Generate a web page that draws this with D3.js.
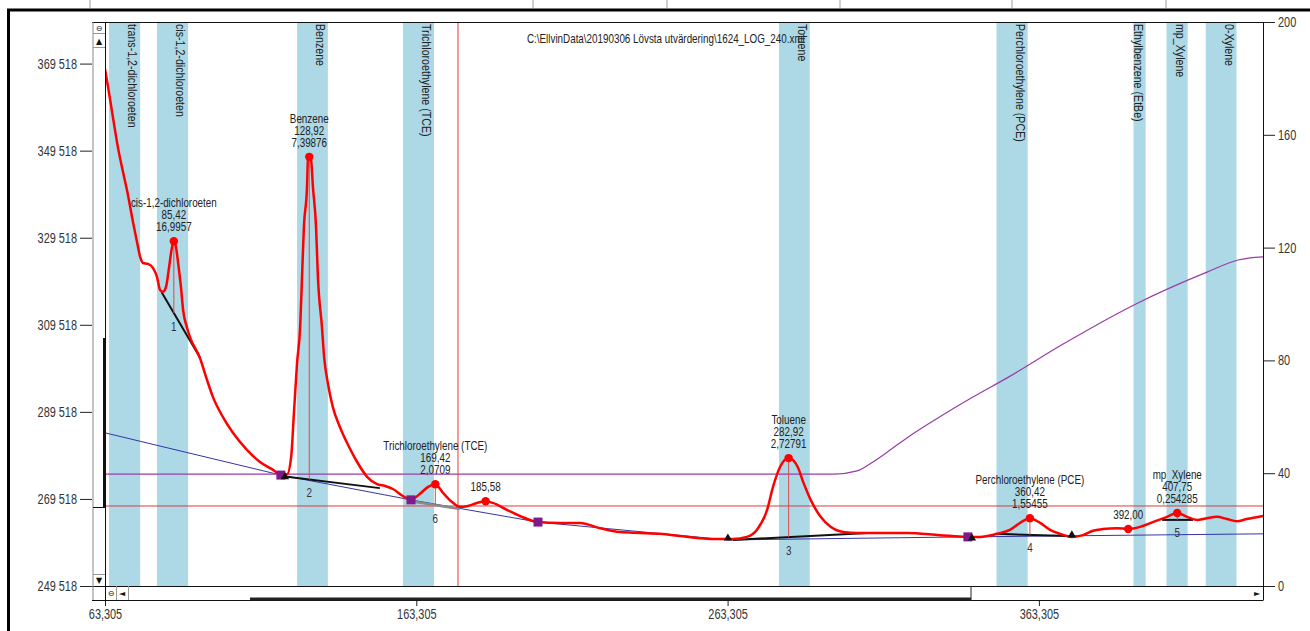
<!DOCTYPE html>
<html>
<head>
<meta charset="utf-8">
<script src="https://cdn.jsdelivr.net/npm/d3@7"></script>
<style>
  html, body { margin: 0; padding: 0; background: #fff; }
  svg { display: block; }
  text { font-family: "Liberation Sans", Arial, sans-serif; fill: #222; }
  .glyph { font-family: "DejaVu Sans", sans-serif; font-size: 8px; fill: #111; }
</style>
</head>
<body>
<div id="chart"></div>
<script>
const title = "C:\\EllvinData\\20190306 Lövsta utvärdering\\1624_LOG_240.xml";

// retention windows: name, from, to (min)
const compoundNames = ["trans-1,2-dichloroeten", "cis-1,2-dichloroeten", "Benzene", "Trichloroethylene (TCE)", "Toluene", "Perchloroethylene (PCE)", "Ethylbenzene (EtBe)", "mp_Xylene", "0-Xylene"];
const windowStart = [64.6, 80.0, 125.0, 159.0, 279.8, 349.7, 393.7, 404.3, 416.9];
const windowEnd   = [74.6, 90.0, 134.9, 169.0, 289.7, 359.7, 397.6, 411.1, 426.8];

// detector signal
const signalTime = [63.3, 64.3, 65.9, 67.5, 69.1, 70.7, 72.3, 73.6, 74.6, 75.5, 77.1, 78.7, 80.0, 81.0, 81.9, 82.9, 83.9, 84.8, 85.42, 86.1, 86.8, 87.7, 88.4, 89.6, 90.6, 93.8, 96.1, 98.0, 101.2, 104.4, 108.9, 113.1, 117.3, 119.5, 121.8, 123.1, 124.0, 125.0, 126.0, 126.6, 127.2, 128.2, 128.5, 128.92, 129.5, 130.1, 131.1, 131.7, 133.0, 133.7, 134.9, 136.5, 138.8, 141.4, 144.3, 147.5, 150.7, 153.3, 155.8, 159.0, 161.6, 164.5, 167.1, 169.42, 171.9, 174.8, 177.3, 179.9, 182.8, 185.58, 187.9, 192.4, 196.6, 202.4, 209.5, 215.9, 222.3, 228.7, 235.2, 241.6, 248.0, 254.4, 260.9, 265.0, 269.5, 272.7, 276.0, 277.9, 280.2, 282.92, 285.8, 287.7, 290.0, 293.2, 296.4, 300.5, 304.9, 310.0, 320.9, 331.5, 340.2, 344.4, 349.8, 354.0, 357.2, 360.42, 363.7, 366.9, 370.1, 373.9, 377.5, 380.7, 383.9, 388.4, 392.0, 395.8, 399.9, 404.5, 407.75, 410.9, 414.1, 417.3, 420.5, 423.7, 426.9, 430.1, 435.3];
const signalValue = [368300, 364100, 357000, 350100, 344600, 339300, 333100, 328500, 325100, 323700, 323500, 322600, 320500, 317500, 317100, 318200, 322800, 327200, 328700, 327400, 323700, 318200, 312900, 309000, 306700, 301900, 296800, 292900, 288300, 284700, 280800, 278000, 276200, 275200, 275200, 279100, 289300, 300700, 309000, 320500, 332000, 341200, 347400, 348100, 347400, 341200, 332000, 320500, 309000, 302100, 296100, 290600, 286000, 281900, 278000, 274600, 272900, 272500, 271800, 270200, 269300, 270700, 272300, 272900, 270900, 268800, 267700, 267900, 268600, 269000, 268600, 267000, 265600, 264200, 264000, 264000, 262800, 261900, 261700, 261500, 261000, 260500, 260300, 260300, 260800, 262400, 267000, 272300, 276900, 278900, 276900, 273200, 269300, 265400, 263100, 261900, 261700, 261700, 261700, 261200, 260800, 260800, 261500, 262400, 264000, 265100, 264000, 262400, 261500, 260800, 261200, 262200, 262600, 262800, 262600, 263100, 264200, 265400, 266300, 265400, 264700, 265100, 265400, 264900, 264400, 264900, 265600];

// column temperature (right axis)
const tempTime  = [63.3, 297.8, 304.9, 310.0, 315.5, 320.9, 331.5, 342.1, 353.1, 371.1, 394.8, 417.3, 427.3, 435.3];
const tempValue = [39.7, 39.7, 40.8, 44.0, 48.2, 52.5, 60.0, 67.0, 73.8, 85.8, 100.2, 111.3, 115.6, 116.7];

// fitted baseline
const baseTime  = [63.3, 119.8, 161.6, 202.4, 263.4, 340.2, 435.3];
const baseValue = [284700, 275000, 269300, 264200, 260100, 260800, 261500];

// integration lines per peak: [t0, v0, t1, v1]
const integration = [
  [81.5, 317000, 93.8, 302000],
  [119.8, 274800, 151.6, 272000],
  [161.6, 269000, 177.3, 267200],
  [265.0, 260100, 308.4, 261700],
  [349.8, 261500, 372.7, 261000],
  [402.9, 264700, 412.8, 264700]
];

// detected peaks
const peakName   = ["cis-1,2-dichloroeten", "Benzene", "Trichloroethylene (TCE)", "", "Toluene", "Perchloroethylene (PCE)", "", "mp_Xylene"];
const peakTime   = [85.42, 128.92, 169.42, 185.58, 282.92, 360.42, 392.00, 407.75];
const peakHeight = [328700, 348100, 272900, 269000, 278900, 265100, 262600, 266300];
const peakArea   = [16.9957, 7.39876, 2.0709, null, 2.72791, 1.55455, null, 0.254285];
const peakNo     = [1, 2, 6, null, 3, 4, null, 5];
const peakLine   = [0, 1, 2, null, 3, 4, null, 5];

const valleyTime = [119.8, 161.6, 202.4, 340.5];
const valleyValue = [275000, 269300, 264200, 260800];
const startTime = [121.1, 263.4, 341.8, 373.9];
const startValue = [274600, 260500, 260500, 261200];

const cursorTime = 176.7;
const cursorValue = 267900;

const timeTicks = [63.305, 163.305, 263.305, 363.305];
const signalTicks = [249518, 269518, 289518, 309518, 329518, 349518, 369518];
const tempTicks = [0, 40, 80, 120, 160, 200];

// no narrow font installed, so squeeze text horizontally
function squeeze(sel, k) {
  k = k || 0.82;
  sel.each(function() {
    const t = d3.select(this);
    if (t.attr("x") !== null) t.attr("x", +t.attr("x") / k);
    t.selectAll("tspan").each(function() {
      const s = d3.select(this);
      if (s.attr("x") !== null) s.attr("x", +s.attr("x") / k);
    });
    t.attr("transform", (t.attr("transform") || "") + ` scale(${k},1)`);
  });
}

function render() {
  const W = 1310, H = 631;
  const p = { left: 105, right: 1263, top: 22, bottom: 586 };

  const svg = d3.select("#chart").append("svg").attr("width", W).attr("height", H);

  const x = d3.scaleLinear().domain([63.305, 435.3]).range([p.left, p.right]);
  const y = d3.scaleLinear().domain([249518, 379070]).range([p.bottom, p.top]);
  const yT = d3.scaleLinear().domain([0, 200]).range([p.bottom, p.top]);

  const comma = s => String(s).replace(".", ",");
  const thousands = d => String(d).replace(/\B(?=(\d{3})+(?!\d))/g, " ");

  svg.append("rect").attr("width", W).attr("height", H).attr("fill", "#fff");

  // window chrome above the plot
  [90, 533, 667, 840, 1012, 1166].forEach(cx => {
    svg.append("line").attr("x1", cx).attr("x2", cx).attr("y1", 0).attr("y2", 8)
      .attr("stroke", "#cfcfcf").attr("stroke-width", 2);
  });
  svg.append("line").attr("x1", 7).attr("x2", W).attr("y1", 10).attr("y2", 10).attr("stroke", "#000").attr("stroke-width", 3);
  svg.append("line").attr("x1", 8.5).attr("x2", 8.5).attr("y1", 9).attr("y2", H).attr("stroke", "#000").attr("stroke-width", 3);

  svg.append("defs").append("clipPath").attr("id", "clip").append("rect")
    .attr("x", p.left).attr("y", p.top).attr("width", p.right - p.left).attr("height", p.bottom - p.top);

  const g = svg.append("g").attr("clip-path", "url(#clip)");

  const bands = compoundNames.map((n, i) => ({ name: n, t0: windowStart[i], t1: windowEnd[i] }));
  g.selectAll("rect.band").data(bands).join("rect").attr("class", "band")
    .attr("x", d => x(d.t0)).attr("width", d => x(d.t1) - x(d.t0))
    .attr("y", p.top).attr("height", p.bottom - p.top)
    .attr("fill", "#add8e6");

  g.selectAll("text.band").data(bands).join("text").attr("class", "band")
    .attr("transform", d => `translate(${x(d.t1) - 12},${p.top + 2}) rotate(90)`)
    .style("font-size", "13px")
    .text(d => d.name);

  g.append("text").attr("class", "title").attr("x", 527).attr("y", 43).style("font-size", "12px").text(title);

  const base = baseTime.map((t, i) => [t, baseValue[i]]);
  g.append("path").datum(base)
    .attr("d", d3.line().x(d => x(d[0])).y(d => y(d[1])))
    .attr("fill", "none").attr("stroke", "#3535a5").attr("stroke-width", 1);

  const temp = tempTime.map((t, i) => [t, tempValue[i]]);
  g.append("path").datum(temp)
    .attr("d", d3.line().x(d => x(d[0])).y(d => yT(d[1])).curve(d3.curveMonotoneX))
    .attr("fill", "none").attr("stroke", "#9a3ca8").attr("stroke-width", 1.2);

  // cursors
  g.append("line").attr("x1", x(cursorTime)).attr("x2", x(cursorTime)).attr("y1", p.top).attr("y2", p.bottom)
    .attr("stroke", "#e23a3a").attr("stroke-width", 1);
  g.append("line").attr("x1", p.left).attr("x2", p.right).attr("y1", y(cursorValue)).attr("y2", y(cursorValue))
    .attr("stroke", "#e23a3a").attr("stroke-width", 1);

  g.selectAll("line.integ").data(integration).join("line").attr("class", "integ")
    .attr("x1", d => x(d[0])).attr("y1", d => y(d[1]))
    .attr("x2", d => x(d[2])).attr("y2", d => y(d[3]))
    .attr("stroke", (d, i) => i === 2 ? "#8a8a8a" : "#111")
    .attr("stroke-width", (d, i) => i === 2 ? 2.5 : 2);

  const signal = signalTime.map((t, i) => [t, signalValue[i]]);
  g.append("path").datum(signal)
    .attr("d", d3.line().x(d => x(d[0])).y(d => y(d[1])).curve(d3.curveMonotoneX))
    .attr("fill", "none").attr("stroke", "#ff0000").attr("stroke-width", 2.5);

  const peaks = peakTime.map((t, i) => {
    let b = null;
    if (peakLine[i] !== null) {
      const s = integration[peakLine[i]];
      b = d3.interpolateNumber(s[1], s[3])((t - s[0]) / (s[2] - s[0]));
    }
    return { t, v: peakHeight[i], name: peakName[i], area: peakArea[i], no: peakNo[i], base: b };
  });

  g.selectAll("line.drop").data(peaks.filter(d => d.base !== null)).join("line").attr("class", "drop")
    .attr("x1", d => x(d.t)).attr("x2", d => x(d.t))
    .attr("y1", d => y(d.v)).attr("y2", d => y(d.base))
    .attr("stroke", "#e04848").attr("stroke-width", 1);

  g.selectAll("rect.valley").data(valleyTime).join("rect").attr("class", "valley")
    .attr("x", (d, i) => x(d) - 4.5).attr("y", (d, i) => y(valleyValue[i]) - 4.5)
    .attr("width", 9).attr("height", 9).attr("fill", "#7e1a8a");

  g.selectAll("path.start").data(startTime).join("path").attr("class", "start")
    .attr("transform", (d, i) => `translate(${x(d)},${y(startValue[i])})`)
    .attr("d", d3.symbol(d3.symbolTriangle, 30))
    .attr("fill", "#111");

  g.selectAll("circle.peak").data(peaks).join("circle").attr("class", "peak")
    .attr("cx", d => x(d.t)).attr("cy", d => y(d.v)).attr("r", 4.2).attr("fill", "#ff0000");

  const lab = g.selectAll("text.plab").data(peaks).join("text").attr("class", "plab")
    .attr("text-anchor", "middle").style("font-size", "12px")
    .attr("x", d => x(d.t));
  lab.each(function(d) {
    const lines = d.name ? [d.name, d.t.toFixed(2), d.area] : [d.t.toFixed(2)];
    const el = d3.select(this);
    const top = y(d.v) - 10 - (lines.length - 1) * 12;
    lines.forEach((s, k) => {
      el.append("tspan").attr("x", x(d.t)).attr("y", top + k * 12).text(comma(s));
    });
  });

  g.selectAll("text.pno").data(peaks.filter(d => d.no !== null)).join("text").attr("class", "pno")
    .attr("text-anchor", "middle").style("font-size", "12px").style("fill", "#333")
    .attr("x", d => x(d.t)).attr("y", d => y(d.base) + 17.5)
    .text(d => d.no);

  squeeze(g.selectAll("text"));

  // axes
  const axL = svg.append("g").attr("transform", "translate(92,0)")
    .call(d3.axisLeft(y).tickValues(signalTicks).tickSize(12).tickFormat(thousands));
  const axR = svg.append("g").attr("transform", `translate(${p.right},0)`)
    .call(d3.axisRight(yT).tickValues(tempTicks).tickSize(12));
  const axB = svg.append("g").attr("transform", "translate(0,600)")
    .call(d3.axisBottom(x).tickValues(timeTicks).tickSize(6).tickFormat(d => d.toFixed(3).replace(".", ",")));
  [axL, axR, axB].forEach(a => {
    a.select(".domain").remove();
    a.selectAll("line").attr("stroke", "#222");
    a.selectAll("text").style("font-size", "14px").style("fill", "#333")
      .style("font-family", "'Liberation Sans', Arial, sans-serif");
    squeeze(a.selectAll("text"), 0.78);
  });

  // frame and scroll bars
  const ln = (x1, y1, x2, y2, c, w) => svg.append("line")
    .attr("x1", x1).attr("y1", y1).attr("x2", x2).attr("y2", y2)
    .attr("stroke", c || "#111").attr("stroke-width", w || 1);

  ln(92, p.top + 0.5, p.right, p.top + 0.5);
  ln(92, p.bottom + 0.5, p.right, p.bottom + 0.5);
  ln(92, 600.5, p.right, 600.5);
  ln(p.left + 0.5, p.top, p.left + 0.5, 600);
  ln(p.right + 0.5, p.top, p.right + 0.5, 600.5);
  ln(93, p.top, 93, 600, "#888");
  ln(93, 33.5, p.left, 33.5, "#999");
  ln(93, 47.5, p.left, 47.5, "#999");
  ln(93, 574.5, p.left, 574.5, "#999");
  ln(104, 338, 104, 507, "#111", 2);
  ln(93, 507.5, p.left, 507.5, "#111");
  ln(116.5, p.bottom, 116.5, 600, "#999");
  ln(128.5, p.bottom, 128.5, 600, "#999");
  ln(250, 599, 971, 599, "#222", 3);
  ln(971, p.bottom, 971, 600, "#222");

  const glyphs = [["⊖", 99, 31], ["▲", 99, 44], ["▼", 99, 583], ["⊖", 111, 596], ["◄", 122, 596], ["►", 1257, 596]];
  svg.selectAll("text.glyph").data(glyphs).join("text").attr("class", "glyph")
    .attr("x", d => d[1]).attr("y", d => d[2]).attr("text-anchor", "middle").text(d => d[0]);
}

render();
</script>
</body>
</html>
